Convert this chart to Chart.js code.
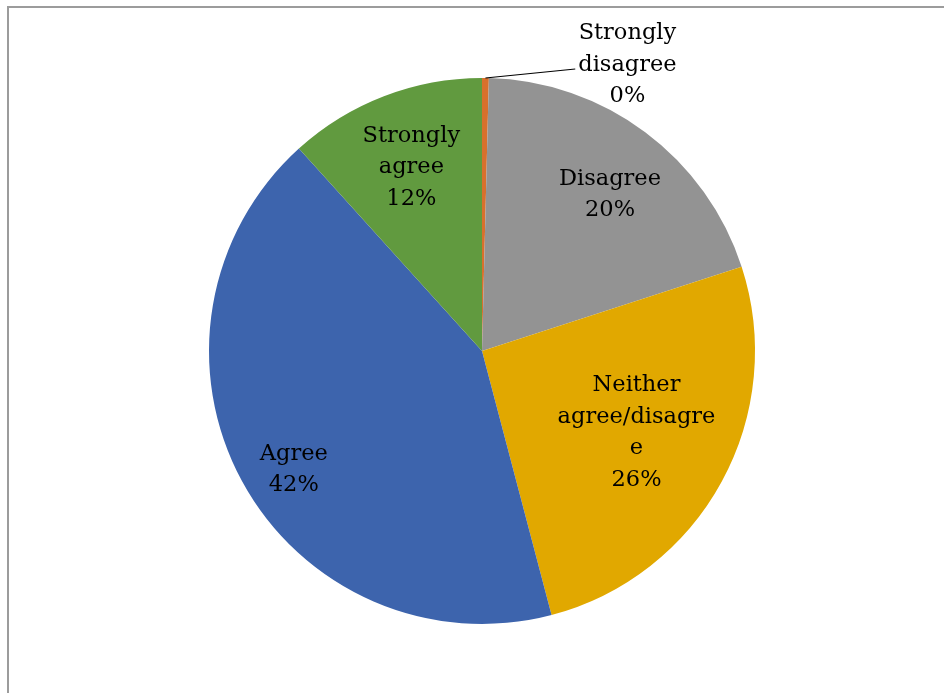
<!DOCTYPE html>
<html>
<head>
<meta charset="utf-8">
<script src="https://cdn.jsdelivr.net/npm/chart.js@4.4.1/dist/chart.umd.min.js"></script>
<style>
  html, body { margin: 0; padding: 0; background: #fff; }
  #wrap { position: relative; width: 944px; height: 693px; overflow: hidden; }
  #frame { position: absolute; left: 7px; top: 6px; width: 1000px; height: 1000px;
           border-left: 2px solid #9c9c9c; border-top: 2px solid #9c9c9c; box-sizing: border-box; }
  canvas { position: absolute; left: 0; top: 0; }
</style>
</head>
<body>
<div id="wrap">
  <div id="frame"></div>
  <canvas id="c" width="944" height="693"></canvas>
</div>
<script>
// Categories (each as display lines) and values (percent of responses)
const categories = [
  ['Strongly', 'disagree'],
  ['Disagree'],
  ['Neither', 'agree/disagre', 'e'],
  ['Agree'],
  ['Strongly', 'agree']
];
const values = [0.4, 19.6, 25.9, 42.4, 11.7];
const colors = ['#D8702C', '#939393', '#E1A800', '#3D64AD', '#619A3F'];

// label placement styling: radial fraction (null = outside with leader line), angle tweak in degrees
const labelRadius = [null, 0.74, 0.64, 0.815, 0.72];
const labelAngleTweak = [0, 2.6, -0.8, -3.8, 0];

const FONT = '22.5px "DejaVu Serif"';
const LINE_H = 31.5;

const pieLabels = {
  id: 'pieLabels',
  afterDatasetsDraw(chart) {
    const ctx = chart.ctx;
    const meta = chart.getDatasetMeta(0);
    const data = chart.data.datasets[0].data;
    const total = data.reduce((a, b) => a + b, 0);
    ctx.save();
    ctx.font = FONT;
    ctx.fillStyle = '#000';
    ctx.textAlign = 'center';
    ctx.textBaseline = 'middle';
    meta.data.forEach((arc, i) => {
      const p = arc.getProps(['x', 'y', 'startAngle', 'endAngle', 'outerRadius'], true);
      const pct = Math.round(data[i] / total * 100) + '%';
      const lines = chart.data.labels[i].concat([pct]);
      const mid = (p.startAngle + p.endAngle) / 2;
      let cx, cy;
      if (labelRadius[i] === null) {
        const ax = p.x + Math.cos(mid) * p.outerRadius;
        const ay = p.y + Math.sin(mid) * p.outerRadius;
        cx = ax + 142;
        cy = ay - 13;
        const startY = cy - (lines.length - 1) * LINE_H / 2;
        const w = ctx.measureText(lines[1]).width;
        ctx.beginPath();
        ctx.strokeStyle = '#000';
        ctx.lineWidth = 1.2;
        ctx.moveTo(ax, ay);
        ctx.lineTo(cx - w / 2 - 3, startY + LINE_H + 4);
        ctx.stroke();
      } else {
        const a = mid + labelAngleTweak[i] * Math.PI / 180;
        cx = p.x + Math.cos(a) * p.outerRadius * labelRadius[i];
        cy = p.y + Math.sin(a) * p.outerRadius * labelRadius[i];
      }
      const startY = cy - (lines.length - 1) * LINE_H / 2;
      lines.forEach((ln, k) => ctx.fillText(ln, cx, startY + k * LINE_H));
    });
    ctx.restore();
  }
};

new Chart(document.getElementById('c'), {
  type: 'pie',
  data: {
    labels: categories,
    datasets: [{
      data: values,
      backgroundColor: colors,
      borderWidth: 0
    }]
  },
  options: {
    responsive: false,
    animation: false,
    layout: { padding: { top: 78, bottom: 69, left: 20, right: 0 } },
    plugins: {
      legend: { display: false },
      tooltip: { enabled: false }
    }
  },
  plugins: [pieLabels]
});
</script>
</body>
</html>
